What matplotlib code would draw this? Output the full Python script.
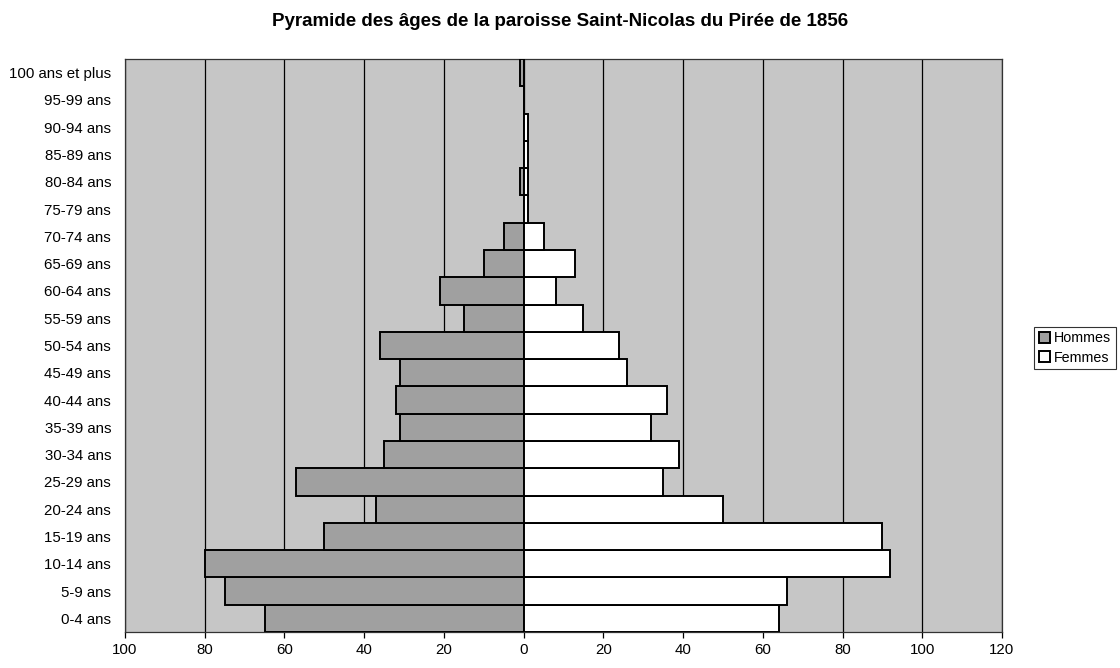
import matplotlib
matplotlib.use("Agg")
import matplotlib.pyplot as plt
from matplotlib.ticker import FuncFormatter, MultipleLocator

plt.rcParams['font.family'] = ['Liberation Sans', 'DejaVu Sans']

categories = ["0-4 ans", "5-9 ans", "10-14 ans", "15-19 ans", "20-24 ans", "25-29 ans",
              "30-34 ans", "35-39 ans", "40-44 ans", "45-49 ans", "50-54 ans", "55-59 ans",
              "60-64 ans", "65-69 ans", "70-74 ans", "75-79 ans", "80-84 ans", "85-89 ans",
              "90-94 ans", "95-99 ans", "100 ans et plus"]
hommes = [65, 75, 80, 50, 37, 57, 35, 31, 32, 31, 36, 15, 21, 10, 5, 0, 1, 0, 0, 0, 1]
femmes = [64, 66, 92, 90, 50, 35, 39, 32, 36, 26, 24, 15, 8, 13, 5, 1, 1, 1, 1, 0, 0]
title = "Pyramide des âges de la paroisse Saint-Nicolas du Pirée de 1856"

fig = plt.figure(figsize=(11.2, 6.68), dpi=100)
ax = fig.add_axes([125/1120, 1-632/668, 877/1120, 573/668])
ax.set_facecolor('#c6c6c6')

y = list(range(len(categories)))
ax.barh(y, [-h for h in hommes], height=1.0, color='#a0a0a0', edgecolor='black',
        linewidth=1.4, label='Hommes', zorder=3)
ax.barh(y, femmes, height=1.0, color='white', edgecolor='black',
        linewidth=1.4, label='Femmes', zorder=3)

ax.set_xlim(-100, 120)
ax.set_ylim(-0.5, len(categories)-0.5)
ax.xaxis.set_major_locator(MultipleLocator(20))
ax.xaxis.set_major_formatter(FuncFormatter(lambda v, p: f"{abs(int(round(v)))}"))
ax.grid(axis='x', color='black', linewidth=0.9, zorder=1)
ax.set_yticks(y)
ax.set_yticklabels(categories, fontsize=10.8)
ax.tick_params(axis='y', length=0, pad=10)
ax.tick_params(axis='x', length=4, width=0.9, direction='out', labelsize=10.8, pad=4)
for s in ax.spines.values():
    s.set_linewidth(0.9)
    s.set_color('#333333')

fig.text(0.5, 1-22/668, title, ha='center', va='center', fontsize=13.5, fontweight='bold')

leg = fig.legend(loc='center', bbox_to_anchor=(1075/1120, 1-348/668), fontsize=10.3,
                 frameon=True, fancybox=False, edgecolor='black', handlelength=0.8,
                 handleheight=0.8, handletextpad=0.3, borderpad=0.3, labelspacing=0.4,
                 borderaxespad=0)
leg.get_frame().set_linewidth(0.8)

fig.savefig("out.png", dpi=100)
